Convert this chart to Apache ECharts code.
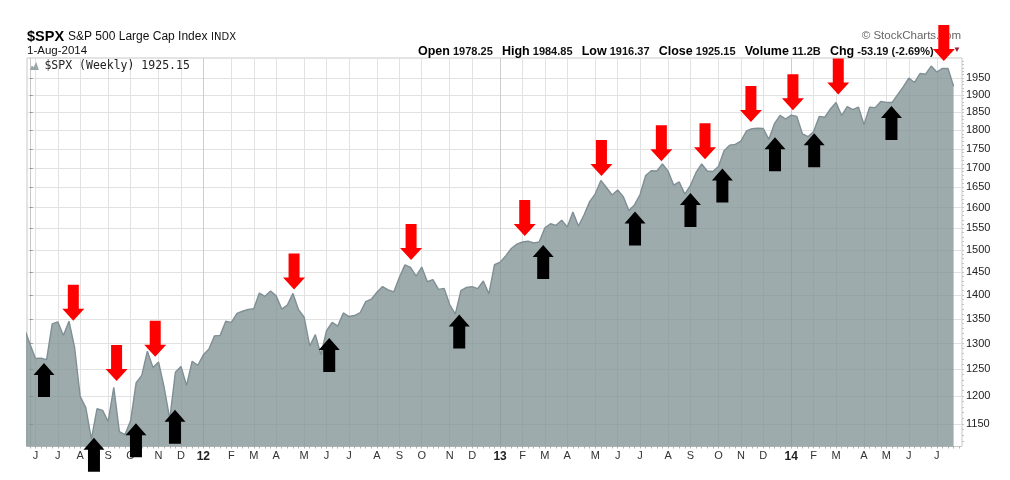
<!DOCTYPE html>
<html><head><meta charset="utf-8">
<script src="https://cdn.jsdelivr.net/npm/echarts@6/dist/echarts.min.js"></script>
<style>html,body{margin:0;padding:0;background:#fff}#c{width:1010px;height:480px}</style>
</head><body><div id="c"></div>
<script>
// ---------- data ----------
const firstWeek = '2011-06-03';      // week index 0 (weekly bars, Friday dates)
const lastWeekIndex = 165;           // 2014-08-01
// weekly closes, starting one week before firstWeek (2011-05-27, clipped at left edge)
const closes = [
  1331.10,
  1300.16,1270.98,1271.50,1268.45,
  1339.67,1343.80,1316.14,1345.02,1292.28,
  1199.38,1178.81,1123.53,1176.80,
  1173.97,1154.23,1216.01,1136.43,1131.42,
  1155.46,1224.58,1238.25,1285.09,
  1253.23,1263.85,1215.65,1158.67,
  1244.28,1255.19,1219.66,1265.33,1257.60,
  1277.81,1289.09,1315.38,1316.33,
  1344.90,1342.64,1361.23,1365.74,
  1369.63,1370.87,1404.17,1397.11,1408.47,
  1398.08,1370.26,1378.53,1403.36,
  1369.10,1353.39,1295.22,1317.82,
  1278.04,1325.66,1342.84,1335.02,1362.16,
  1354.68,1356.78,1362.66,1385.97,
  1390.99,1405.87,1418.16,1411.13,1406.58,
  1437.92,1465.77,1460.15,1440.67,
  1460.93,1428.59,1433.19,1411.94,
  1414.20,1379.85,1359.88,1409.15,1416.18,
  1418.07,1413.58,1430.15,1402.43,
  1466.47,1472.05,1485.98,1502.96,
  1513.17,1517.93,1519.79,1515.60,
  1518.20,1551.18,1560.70,1556.89,1569.19,
  1553.28,1588.85,1555.25,1582.24,
  1614.42,1633.70,1667.47,1649.60,1630.74,
  1643.38,1626.73,1592.43,1606.28,
  1631.89,1680.19,1692.09,1691.65,
  1709.67,1691.42,1655.83,1663.50,1632.97,
  1655.17,1687.99,1709.91,1691.75,
  1690.50,1703.20,1744.50,1759.77,
  1761.64,1770.61,1798.18,1804.76,1805.81,
  1805.09,1775.32,1818.32,1841.40,
  1831.37,1842.37,1838.70,1790.29,1782.59,
  1797.02,1838.63,1836.25,1859.45,
  1878.04,1841.13,1866.52,1857.62,
  1865.09,1815.69,1864.85,1863.40,
  1881.14,1878.48,1877.86,1900.53,1923.57,
  1949.44,1936.16,1962.87,1960.96,
  1985.44,1967.57,1978.22,1978.34,
  1925.15
];
const yTicks = [1150,1200,1250,1300,1350,1400,1450,1500,1550,1600,1650,1700,1750,1800,1850,1900,1950];
const yMin = 1111, yMax = 2010;
const monthInitials = ['J','F','M','A','M','J','J','A','S','O','N','D'];
// arrow tips: [week index, price]
const sellArrows = [[7.77,1346],[15.5,1228],[22.4,1274],[47.2,1412],[68.1,1477],[88.4,1532],[102.1,1679],[112.8,1717],[120.6,1722],[128.8,1823],[136.3,1856],[144.4,1901],[163.25,2001]];
const buyArrows  = [[2.54,1262],[11.46,1126],[18.96,1151],[25.93,1175],[53.48,1311],[76.7,1359],[91.7,1511],[108.1,1590],[118.0,1636],[123.7,1698],[133.1,1781],[140.1,1792],[153.9,1868]];
const seriesName = '$SPX (Weekly) 1925.15';

// ---------- axis helpers ----------
const DAY = 86400000;
const t0 = Date.parse(firstWeek + 'T00:00:00Z');
function weekDate(w){ return new Date(t0 + w*7*DAY); }
// half-week category slots so that week w sits at slot 2w+1, axis spans w = -0.5 .. 166.5
const nSlots = 2*(lastWeekIndex+1) + 3;
const cats = [];
for (let k=0;k<nSlots;k++){
  if (k%2===1){ const w=(k-1)/2; cats.push(weekDate(w).toISOString().slice(0,10)); }
  else cats.push('');
}
function isMonthStart(k){
  if (k%2!==1) return false;
  const w=(k-1)/2;
  if (w<0 || w>lastWeekIndex) return false;
  const mon = new Date(weekDate(w).getTime()-4*DAY);
  const prev = new Date(mon.getTime()-7*DAY);
  return mon.getUTCMonth()!==prev.getUTCMonth();
}
const L = Math.log10;
const lineData = closes.map((v,i)=>[i-1, L(v)]);
const gridColors = ['#e2e2e2','#e2e2e2','#e2e2e2','#e2e2e2','#e2e2e2','#e2e2e2','#e2e2e2','#cdcdcd','#e2e2e2','#e2e2e2','#e2e2e2','#e2e2e2'];
const minorY = []; for (let v=1120; v<=2000; v+=10) minorY.push(L(v));

const hdrFont = 'Liberation Sans';
const chart = echarts.init(document.getElementById('c'), null, {renderer:'canvas'});
chart.setOption({
  animation:false,
  backgroundColor:'#fff',
  title:[
    {text:'$SPX', left:27, top:29, padding:0, textStyle:{fontFamily:hdrFont, fontWeight:'bold', fontSize:14.5, color:'#000'}},
    {text:'S&P 500 Large Cap Index', left:68, top:31, padding:0, textStyle:{fontFamily:hdrFont, fontWeight:'normal', fontSize:12, color:'#111'}},
    {text:'INDX', left:211, top:32, padding:0, textStyle:{fontFamily:'DejaVu Sans', fontWeight:'normal', fontSize:10, color:'#111'}},
    {text:'1-Aug-2014', left:27, top:45, padding:0, textStyle:{fontFamily:hdrFont, fontWeight:'normal', fontSize:11.5, color:'#111'}},
    {text:'\u00a9 StockCharts.com', right:49, top:30, padding:0, textStyle:{fontFamily:hdrFont, fontWeight:'normal', fontSize:11.5, color:'#666'}},
    {text:'{b|Open} {n|1978.25}   {b|High} {n|1984.85}   {b|Low} {n|1916.37}   {b|Close} {n|1925.15}   {b|Volume} {n|11.2B}   {b|Chg} {n|-53.19 (-2.69%)}',
     left:418, top:45, padding:0,
     textStyle:{fontFamily:hdrFont, fontSize:11, color:'#111',
       rich:{b:{fontFamily:hdrFont, fontWeight:'bold', fontSize:12.5, color:'#000'},
             n:{fontFamily:hdrFont, fontSize:11, color:'#111'}}}},
    {text:'\u25BC', left:953, top:46, padding:0, textStyle:{fontSize:8, color:'#9b1b30', fontWeight:'normal'}}
  ],
  legend:{
    left:30, top:60, padding:0, itemWidth:10, itemHeight:8, selectedMode:false,
    data:[{name:seriesName, icon:'path://M0,10L2,5L4,7L7,1L10,10Z', itemStyle:{color:'#9aa6a8'}}],
    textStyle:{fontFamily:'DejaVu Sans Mono', fontSize:11.5, color:'#222'}
  },
  grid:{left:27, right:48, top:58, bottom:33.5, show:true, borderColor:'#c8c8c8', borderWidth:1, containLabel:false},
  xAxis:[
    {type:'category', data:cats, boundaryGap:false,
     axisLine:{show:false},
     axisTick:{show:true, interval:(i)=>i%2===1, length:2, lineStyle:{color:'#b0b0b0'}},
     axisLabel:{show:true, interval:(i)=>isMonthStart(i), margin:4, color:'#333',
       fontFamily:hdrFont, fontSize:11,
       formatter:(val)=>{ if(!val) return ''; const m=+val.slice(5,7)-1; return m===0 ? '{y|'+val.slice(2,4)+'}' : '{m|'+monthInitials[m]+'}'; },
       rich:{y:{fontWeight:'bold', fontSize:12, color:'#222', fontFamily:hdrFont}, m:{fontSize:11, color:'#333', fontFamily:hdrFont}}},
     splitLine:{show:true, interval:(i)=>isMonthStart(i), lineStyle:{color:gridColors, width:1}}
    },
    {type:'value', min:-0.5, max:lastWeekIndex+1.5, show:false}
  ],
  yAxis:[
    {type:'value', position:'right', min:L(yMin), max:L(yMax), scale:true,
     axisLine:{show:true, lineStyle:{color:'#c8c8c8'}},
     axisTick:{show:true, length:3, customValues:yTicks.map(L), lineStyle:{color:'#999'}},
     axisLabel:{show:true, customValues:yTicks.map(L), margin:4, color:'#222', fontFamily:hdrFont, fontSize:11,
       formatter:(v)=>String(Math.round(Math.pow(10,v)))},
     splitLine:{show:true, customValues:yTicks.map(L), lineStyle:{color:'#e2e2e2'}}
    },
    {type:'value', position:'right', min:L(yMin), max:L(yMax), scale:true,
     axisLine:{show:false}, axisLabel:{show:false}, splitLine:{show:false},
     axisTick:{show:true, length:2, customValues:minorY, lineStyle:{color:'#c4c4c4'}}
    }
  ],
  series:[
    {name:seriesName, type:'line', xAxisIndex:1, yAxisIndex:0, data:lineData, symbol:'none', clip:true,
     lineStyle:{color:'#7f8f95', width:1.4},
     itemStyle:{color:'#9aa6a8'},
     areaStyle:{color:'rgba(128,145,146,0.76)', opacity:1, origin:'start'}, z:2, silent:true},
    {name:'sell', type:'scatter', xAxisIndex:1, yAxisIndex:0, clip:false, silent:true, z:10,
     data:sellArrows.map(a=>[a[0], L(a[1])]),
     symbol:'path://M5.5,0L16.5,0L16.5,24L22,24L11,36L0,24L5.5,24Z', symbolSize:[22,36], symbolOffset:[0,-18],
     itemStyle:{color:'#ff0000', opacity:1}},
    {name:'buy', type:'scatter', xAxisIndex:1, yAxisIndex:0, clip:false, silent:true, z:10,
     data:buyArrows.map(a=>[a[0], L(a[1])]),
     symbol:'path://M10.5,0L21,12L16.5,12L16.5,34L4.5,34L4.5,12L0,12Z', symbolSize:[21,34], symbolOffset:[0,17],
     itemStyle:{color:'#000000', opacity:1}}
  ]
});
</script>
</body></html>
